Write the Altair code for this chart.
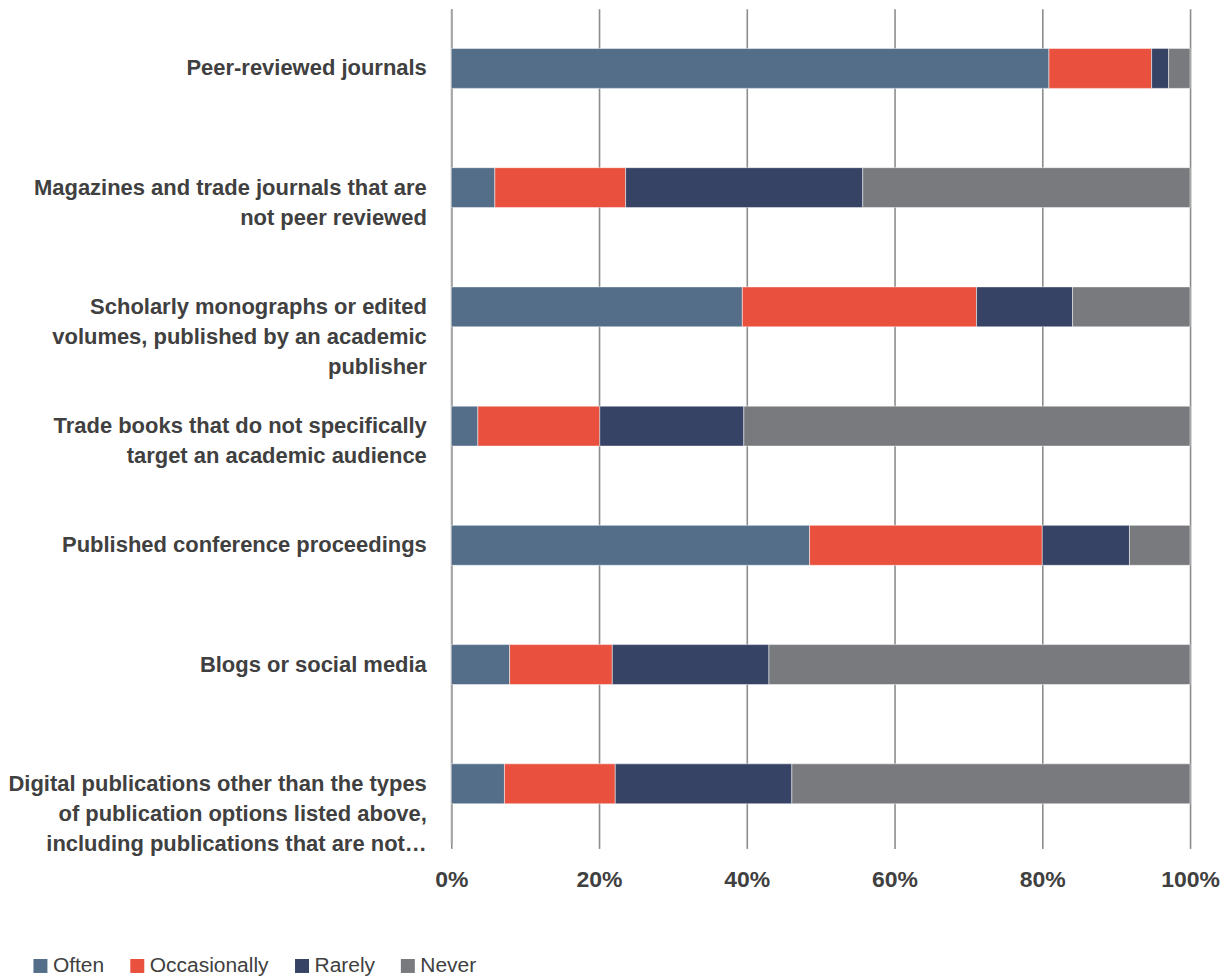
import altair as alt
import pandas as pd

categories = [
    "Peer-reviewed journals",
    "Magazines and trade journals that are|not peer reviewed",
    "Scholarly monographs or edited|volumes, published by an academic|publisher",
    "Trade books that do not specifically|target an academic audience",
    "Published conference proceedings",
    "Blogs or social media",
    "Digital publications other than the types|of publication options listed above,|including publications that are not…",
]
series = ["Often", "Occasionally", "Rarely", "Never"]
often = [80.9, 5.9, 39.4, 3.6, 48.5, 7.9, 7.2]
occasionally = [13.9, 17.7, 31.7, 16.5, 31.5, 13.9, 15.0]
rarely = [2.3, 32.1, 13.0, 19.5, 11.8, 21.2, 23.9]
never = [2.9, 44.3, 15.9, 60.4, 8.2, 57.0, 53.9]
colors = ["#546E8A", "#E9503E", "#364365", "#797A7E"]
x_ticks = [0, 20, 40, 60, 80, 100]

rows = []
for i, c in enumerate(categories):
    for k, (s, vals) in enumerate(zip(series, [often, occasionally, rarely, never])):
        rows.append({"category": c, "series": s, "value": vals[i], "order": k})
df = pd.DataFrame(rows)

FONT = "Liberation Sans"

chart = alt.Chart(df).mark_bar(
    stroke="#ffffff", strokeWidth=0.8, strokeOpacity=0.6
).encode(
    x=alt.X(
        "value:Q",
        stack="zero",
        scale=alt.Scale(domain=[0, 100], nice=False),
        axis=alt.Axis(
            values=x_ticks,
            labelExpr="datum.value + '%'",
            title=None,
            grid=True,
            gridColor="#8c8c8c",
            gridWidth=1.6,
            domain=False,
            ticks=True,
            tickSize=5,
            tickColor="#8c8c8c",
            tickWidth=1.6,
            labelFlush=False,
            labelFont=FONT,
            labelFontWeight="bold",
            labelFontSize=23,
            labelColor="#404040",
            labelPadding=20,
        ),
    ),
    y=alt.Y(
        "category:N",
        sort=categories,
        scale=alt.Scale(paddingInner=0.665, paddingOuter=0.3325),
        axis=alt.Axis(
            title=None,
            labelExpr="split(datum.value, '|')",
            labelFont=FONT,
            labelFontWeight="bold",
            labelFontSize=22,
            labelLineHeight=30,
            labelColor="#404040",
            labelPadding=25,
            labelLimit=500,
            ticks=False,
            domain=True,
            domainColor="#a6a6a6",
            domainWidth=2,
        ),
    ),
    color=alt.Color(
        "series:N",
        sort=series,
        scale=alt.Scale(domain=series, range=colors),
        legend=alt.Legend(
            title=None,
            orient="none",
            direction="horizontal",
            legendX=-422,
            legendY=948,
            symbolType="square",
            symbolSize=196,
            symbolStrokeWidth=0,
            labelFont=FONT,
            labelFontSize=21,
            labelColor="#404040",
            columnPadding=22,
            labelOffset=2,
        ),
    ),
    order=alt.Order("order:Q"),
).properties(
    width=740,
    height=836,
    autosize=alt.AutoSizeParams(type="none"),
    padding={"left": 444, "top": 0, "right": 34, "bottom": 132},
).configure_view(stroke=None)

chart.save("out.html", embed_options={"renderer": "svg", "actions": False})
